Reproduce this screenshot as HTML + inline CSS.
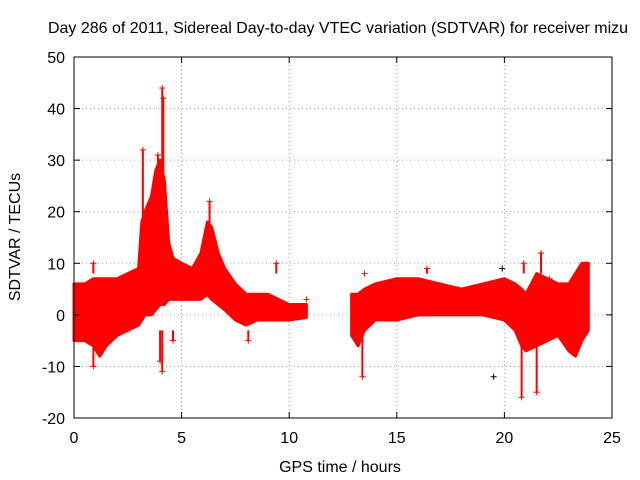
<!DOCTYPE html>
<html><head><meta charset="utf-8"><style>
body{margin:0;background:#fff;}
svg{display:block;font-family:"Liberation Sans",sans-serif;font-size:16px;}
</style></head><body>
<svg id="chart" width="640" height="480">
<rect width="640" height="480" fill="#fff"/>
<text x="338" y="33" text-anchor="middle">Day 286 of 2011, Sidereal Day-to-day VTEC variation (SDTVAR) for receiver mizu</text>
<text x="340" y="472" text-anchor="middle">GPS time / hours</text>
<text transform="translate(20,237) rotate(-90)" text-anchor="middle">SDTVAR / TECUs</text>
<g id="grid"></g><g id="data"></g><g id="axes"></g>
</svg>
<script>
const xTicks=[0,5,10,15,20,25];
const yTicks=[-20,-10,0,10,20,30,40,50];
// segment 1 envelope
const hours1=[0,0.5,0.9,1.2,1.5,2,2.5,3,3.15,3.3,3.6,3.8,4.0,4.2,4.4,4.6,5,5.5,5.9,6.2,6.4,6.7,7,7.5,8,8.5,9,9.5,10,10.8];
const upper1=[6,6,7,7,7,7,8,9,18,20,23,28,30,26,14,11,10,9,12,18,17,12,9,6,4,4,4,3,2,2];
const lower1=[-5,-5,-6,-8,-6,-4,-3,-2,-1,0,0,1,2,2,3,3,3,3,3,4,3,2,1,-1,-2,-1,-1,-1,-1,-0.5];
// segment 2 envelope
const hours2=[12.9,13.2,13.5,14,15,16,17,18,19,20,20.5,20.8,21,21.5,22,22.5,23,23.3,23.6,23.9];
const upper2=[4,4,5,6,7,7,6,5,6,7,6,5,4,8,7,6,6,8,10,10];
const lower2=[-4,-6,-3,-1,-1,0,0,0,0,-1,-3,-6,-7,-6,-5,-4,-7,-8,-5,-3];
// outlier points
const outX=[4.1,4.15,3.2,9.4,0.9,0.9,4.1,4.6,13.4,16.4,20.8,20.9,21.5,21.7,8.1,10.8,4.0,6.3,3.9,13.5,22.1];
const outY=[44,42,32,10,10,-10,-11,-5,-12,9,-16,10,-15,12,-5,3,-9,22,31,8,7];
const blackX=[19.5,19.9];
const blackY=[-12,9];

const X0=74,X1=612,Y0=418,Y1=57;
const xs=v=>X0+(v-0)/(25-0)*(X1-X0);
const ys=v=>Y0-(v+20)/(70)*(Y0-Y1);
const NS="http://www.w3.org/2000/svg";
function mk(tag,attrs,parent){const e=document.createElementNS(NS,tag);for(const k in attrs)e.setAttribute(k,attrs[k]);parent.appendChild(e);return e;}
const grid=document.getElementById('grid'),data=document.getElementById('data'),axes=document.getElementById('axes');
xTicks.forEach(t=>{
 if(t>0&&t<25){const l=mk('line',{x1:xs(t),x2:xs(t),y1:Y1,y2:Y0,stroke:'#a0a0a0','stroke-dasharray':'1,3'},grid);
 }
 const tx=mk('text',{x:xs(t),y:Y0+25,'text-anchor':'middle'},axes);tx.textContent=t;
 
 mk('line',{x1:xs(t),x2:xs(t),y1:Y0,y2:Y0-6,stroke:'#000'},axes);
 mk('line',{x1:xs(t),x2:xs(t),y1:Y1,y2:Y1+6,stroke:'#000'},axes);
});
yTicks.forEach(t=>{
 if(t>-20&&t<50){const l=mk('line',{x1:X0,x2:X1,y1:ys(t),y2:ys(t),stroke:'#a0a0a0','stroke-dasharray':'1,3'},grid);
 }
 const tx=mk('text',{x:X0-9,y:ys(t)+6,'text-anchor':'end'},axes);tx.textContent=t;
 
 mk('line',{x1:X0,x2:X0+6,y1:ys(t),y2:ys(t),stroke:'#000'},axes);
 mk('line',{x1:X1,x2:X1-6,y1:ys(t),y2:ys(t),stroke:'#000'},axes);
});
const frame=mk('rect',{x:X0,y:Y1,width:X1-X0,height:Y0-Y1,fill:'none',stroke:'#000'},axes);

function band(h,u,lo,name){
 let p=h.map((v,i)=>xs(v)+','+ys(u[i]));
 for(let i=h.length-1;i>=0;i--)p.push(xs(h[i])+','+ys(lo[i]));
 const pg=mk('polygon',{points:p.join(' '),fill:'#ff0000',stroke:'#ff0000','stroke-width':3,'stroke-linejoin':'round'},data);
 
}
band(hours1,upper1,lower1,'sdtvar-band-early');
band(hours2,upper2,lower2,'sdtvar-band-late');
function plus(x,y,c,name){
 const g=mk('path',{d:`M${xs(x)-3},${ys(y)}h6M${xs(x)},${ys(y)-3}v6`,stroke:c,'stroke-width':1},data);
 
}
outX.forEach((x,i)=>{
 const y=outY[i];
 const sp=mk('line',{x1:xs(x),x2:xs(x),y1:ys(y),y2:ys(y>0?Math.min(y,8):Math.max(y,-3)),stroke:'#ff0000','stroke-width':2},data);
 
 plus(x,y,'#ff0000','outlier-point');
});
blackX.forEach((x,i)=>plus(x,blackY[i],'#000','black-point'));
</script>
</body></html>
